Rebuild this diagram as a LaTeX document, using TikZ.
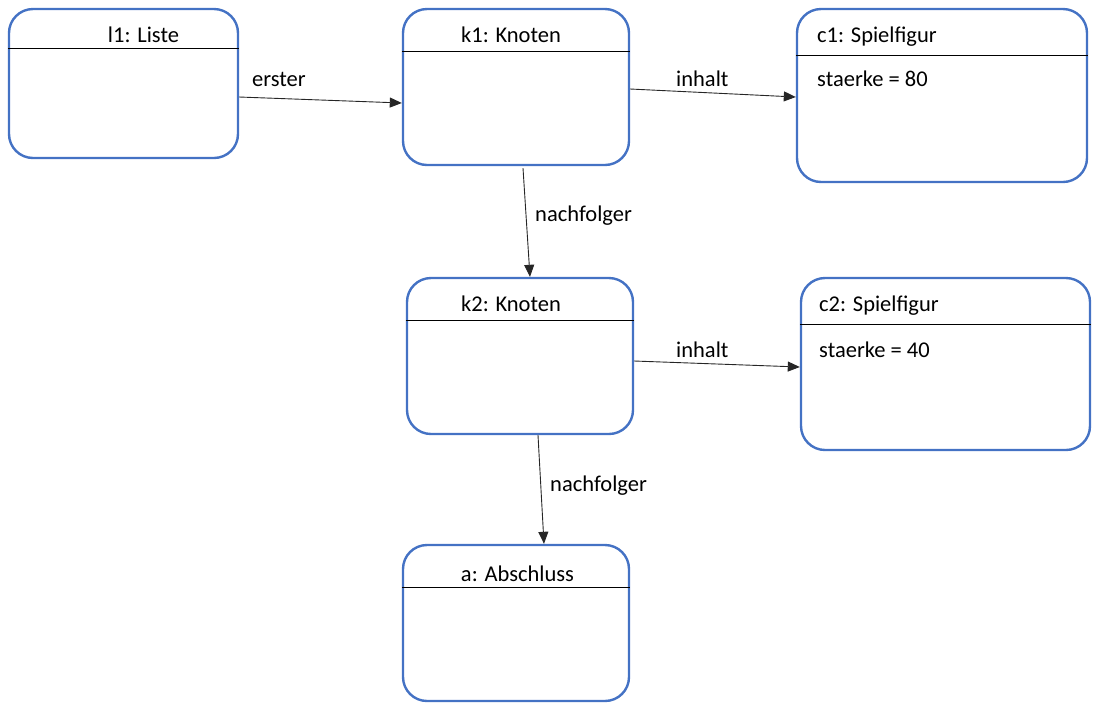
\documentclass[tikz,border=0pt]{standalone}
\usepackage{fontspec}
\setmainfont{Carlito}
\usetikzlibrary{arrows.meta}
\definecolor{objblue}{HTML}{4472C4}
\definecolor{linegray}{HTML}{262626}
\begin{document}
\begin{tikzpicture}[x=1pt,y=-1pt,
  obj/.style={draw=objblue, line width=2.4pt, rounded corners=24pt, minimum width=#1, inner sep=0pt},
  objh/.style={minimum height=#1},
  divider/.style={draw=black, line width=0.8pt},
  txt/.style={font=\fontsize{22.5}{27}\selectfont, inner sep=0pt, text=black},
  conn/.style={draw=linegray, line width=0.9pt, -{Triangle[length=12pt,width=10pt]}}
]
\useasboundingbox (0,0) rectangle (1100,716);
% objects
\node[obj=229pt, objh=149pt] (l1) at (123.5,83.5) {};
\node[obj=226pt, objh=156pt] (k1) at (516,87) {};
\node[obj=290pt, objh=173pt] (c1) at (942,95.5) {};
\node[obj=226pt, objh=156pt] (k2) at (520,356) {};
\node[obj=289pt, objh=172pt] (c2) at (945.5,364) {};
\node[obj=226pt, objh=156pt] (a)  at (516,623) {};
% dividers
\draw[divider] (l1.west |- 0,48) -- (l1.east |- 0,48);
\draw[divider] (k1.west |- 0,51) -- (k1.east |- 0,51);
\draw[divider] (c1.west |- 0,55) -- (c1.east |- 0,55);
\draw[divider] (k2.west |- 0,320) -- (k2.east |- 0,320);
\draw[divider] (c2.west |- 0,324) -- (c2.east |- 0,324);
\draw[divider] (a.west |- 0,587) -- (a.east |- 0,587);
% titles
\node[txt, anchor=base] (l1t) at (143.5,42) {l1: Liste};
\node[txt, anchor=base] (k1t) at (511,42) {k1: Knoten};
\node[txt, anchor=base west] (c1t) at (817,42) {c1: Spielfigur};
\node[txt, anchor=base west] (c1a) at (817,86) {staerke = 80};
\node[txt, anchor=base] (k2t) at (511,311) {k2: Knoten};
\node[txt, anchor=base west] (c2t) at (819,311) {c2: Spielfigur};
\node[txt, anchor=base west] (c2a) at (819,357) {staerke = 40};
\node[txt, anchor=base] (at) at (517.5,581) {a: Abschluss};
% connectors
\draw[conn] ([yshift=-13.5pt]l1.east) -- ([yshift=-16pt]k1.west);
\draw[conn] ([yshift=-2pt]k1.east) -- ([yshift=-1.5pt]c1.west);
\draw[conn] ([xshift=7pt,yshift=-2pt]k1.south) -- ([xshift=10pt]k2.north);
\draw[conn] ([yshift=-5pt]k2.east) -- ([yshift=-3pt]c2.west);
\draw[conn] ([xshift=18pt]k2.south) -- ([xshift=28pt]a.north);
% connector labels
\node[txt, anchor=base west] (lerster) at (252,86) {erster};
\node[txt, anchor=base west] (linhalt1) at (676,86) {inhalt};
\node[txt, anchor=base west] (lnach1) at (535,221) {nachfolger};
\node[txt, anchor=base west] (linhalt2) at (676,357) {inhalt};
\node[txt, anchor=base west] (lnach2) at (550,491) {nachfolger};
\end{tikzpicture}
\end{document}
